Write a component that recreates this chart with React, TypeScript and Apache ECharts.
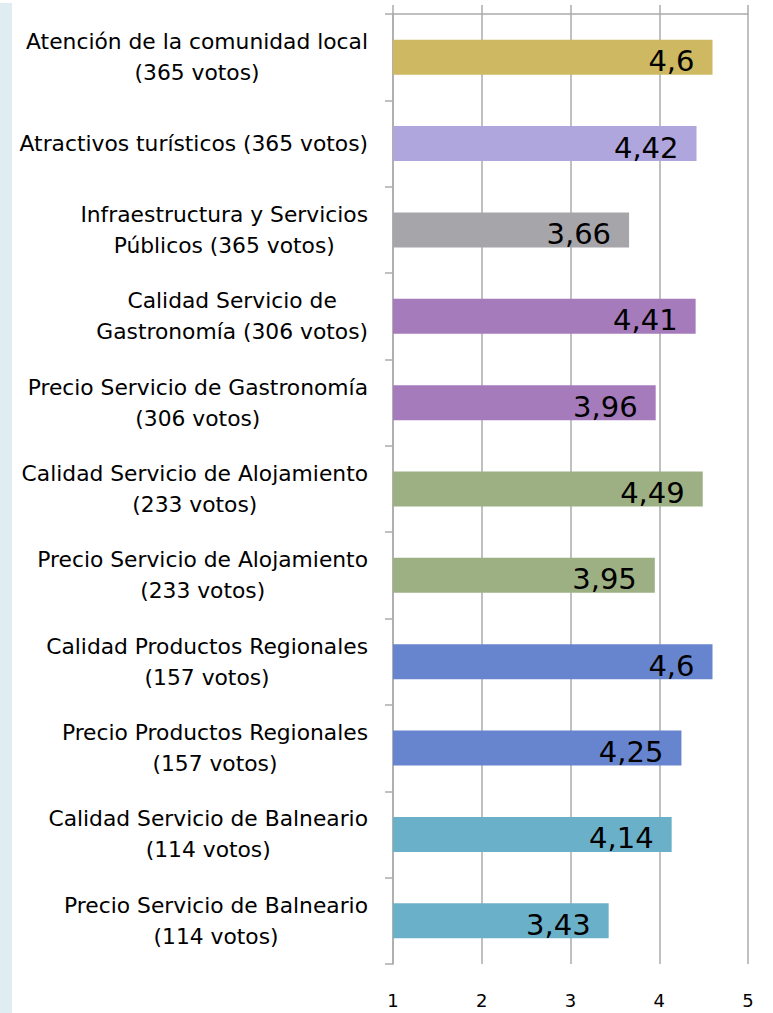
import React, { useEffect, useRef } from "react";
import * as echarts from "echarts";

const categories: string[] = [
  "Atención de la comunidad local\n(365 votos)",
  "Atractivos turísticos (365 votos)",
  "Infraestructura y Servicios\nPúblicos (365 votos)",
  "Calidad Servicio de\nGastronomía (306 votos)",
  "Precio Servicio de Gastronomía\n(306 votos)",
  "Calidad Servicio de Alojamiento\n(233 votos)",
  "Precio Servicio de Alojamiento\n(233 votos)",
  "Calidad Productos Regionales\n(157 votos)",
  "Precio Productos Regionales\n(157 votos)",
  "Calidad Servicio de Balneario\n(114 votos)",
  "Precio Servicio de Balneario\n(114 votos)",
];

const values: number[] = [4.6, 4.42, 3.66, 4.41, 3.96, 4.49, 3.95, 4.6, 4.25, 4.14, 3.43];

const barColors: string[] = [
  "#CEB862",
  "#B0A6DE",
  "#A6A5AA",
  "#A57BBC",
  "#A57BBC",
  "#9DB084",
  "#9DB084",
  "#6785CF",
  "#6785CF",
  "#6BB0C9",
  "#6BB0C9",
];

const xTicks: number[] = [1, 2, 3, 4, 5];

const FONT = "'DejaVu Sans', sans-serif";
const GRID_COLOR = "#ababab";

export default function App() {
  const ref = useRef<HTMLDivElement>(null);

  useEffect(() => {
    if (!ref.current) return;
    const chart = echarts.init(ref.current, null, { renderer: "svg" });
    chart.setOption({
      animation: false,
      backgroundColor: "#ffffff",
      graphic: [
        {
          type: "rect",
          left: 0,
          top: 3,
          shape: { x: 0, y: 0, width: 12, height: 1010 },
          style: { fill: "#DFEDF3" },
          silent: true,
        },
      ],
      grid: { left: 393, right: 25, top: 14, bottom: 49, containLabel: false },
      xAxis: [
        {
          type: "value",
          position: "bottom",
          min: xTicks[0],
          max: xTicks[xTicks.length - 1],
          interval: 1,
          axisLine: { show: false },
          axisTick: { show: false },
          axisLabel: {
            margin: 27,
            fontSize: 18,
            color: "#000",
            fontFamily: FONT,
            formatter: (v: number) => String(v),
          },
          splitLine: { show: true, lineStyle: { color: GRID_COLOR, width: 1.5 } },
        },
        {
          type: "value",
          position: "top",
          min: xTicks[0],
          max: xTicks[xTicks.length - 1],
          interval: 1,
          axisLine: { show: true, lineStyle: { color: GRID_COLOR, width: 1.5 } },
          axisTick: { show: true, length: 9, inside: false, lineStyle: { color: GRID_COLOR, width: 1.5 } },
          axisLabel: { show: false },
          splitLine: { show: false },
        },
      ],
      yAxis: {
        type: "category",
        inverse: true,
        data: categories,
        axisLine: { show: true, lineStyle: { color: GRID_COLOR, width: 1.5 } },
        axisTick: { show: true, length: 8, inside: false, lineStyle: { color: GRID_COLOR, width: 1.5 } },
        splitLine: { show: false },
        axisLabel: {
          margin: 25,
          align: "right",
          fontSize: 21.8,
          lineHeight: 31,
          color: "#000",
          fontFamily: FONT,
          formatter: (v: string) =>
            v
              .split("\n")
              .map((l) => `{c|${l}}`)
              .join("\n"),
          rich: {
            c: {
              align: "center",
              fontSize: 21.8,
              lineHeight: 31,
              color: "#000",
              fontFamily: FONT,
            },
          },
        },
      },
      series: [
        {
          type: "bar",
          xAxisIndex: 0,
          barWidth: 35,
          data: values.map((v, i) => ({ value: v, itemStyle: { color: barColors[i] } })),
          label: {
            show: true,
            position: "insideRight",
            distance: 18,
            offset: [0, 4],
            fontSize: 29,
            color: "#000",
            fontFamily: FONT,
            formatter: (p: any) => String(p.value).replace(".", ","),
          },
        },
      ],
    });
    return () => chart.dispose();
  }, []);

  return (
    <div
      ref={ref}
      style={{ position: "fixed", left: 0, top: 0, width: 773, height: 1013 }}
    />
  );
}
